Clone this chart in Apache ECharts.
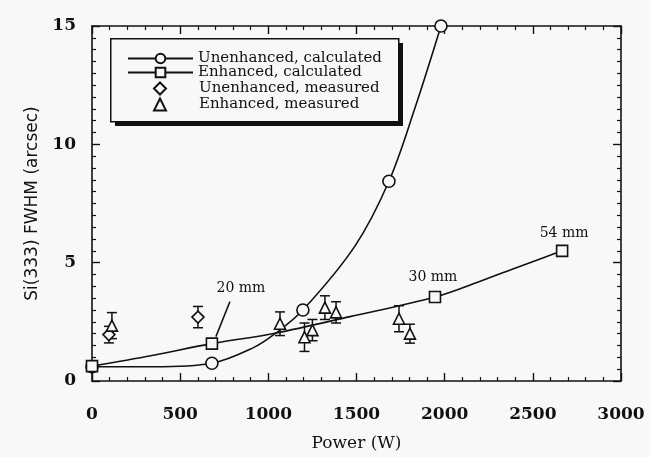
<!DOCTYPE html>
<html>
<head>
<meta charset="utf-8">
<script src="https://cdn.jsdelivr.net/npm/echarts@6/dist/echarts.min.js"></script>
<style>
html,body{margin:0;padding:0;background:#f8f8f8;}
#chart{width:650px;height:457px;}
</style>
</head>
<body>
<div id="chart"></div>
<script>
// ---- data ----
// calculated curves: traced points (W, arcsec)
const unenhCurveX = [0, 350, 680, 913, 1038, 1196, 1491, 1684, 1830, 1979];
const unenhCurveY = [0.6, 0.6, 0.75, 1.4, 2.0, 3.0, 5.7, 8.44, 11.5, 15.0];
// positions of the calculated markers (circles)
const unenhMarkX = [0, 680, 1196, 1684, 1979];

const enhCurveX = [0, 340, 680, 1038, 1463, 1945, 2217, 2410, 2666];
const enhCurveY = [0.63, 1.08, 1.58, 2.02, 2.72, 3.55, 4.26, 4.8, 5.5];
// calculated markers (squares) and their labels
const enhMarkX = [0, 680, 1945, 2666];
const enhMarkLabels = ['', '20 mm', '30 mm', '54 mm'];

// measured points with error bars
const unenhMeasX = [96, 601];
const unenhMeasY = [1.96, 2.7];
const unenhMeasErr = [0.35, 0.45];

const enhMeasX = [113, 1066, 1205, 1250, 1321, 1384, 1741, 1803];
const enhMeasY = [2.34, 2.42, 1.85, 2.15, 3.1, 2.9, 2.63, 2.0];
const enhMeasErr = [0.55, 0.5, 0.6, 0.45, 0.5, 0.45, 0.55, 0.4];

const xTicks = [0, 500, 1000, 1500, 2000, 2500, 3000];
const yTicks = [0, 5, 10, 15];

const seriesNames = ['Unenhanced, calculated', 'Enhanced, calculated', 'Unenhanced, measured', 'Enhanced, measured'];
// ---------------------------------------

const BLACK = '#111';
const BG = '#f8f8f8';
const SERIF = '"DejaVu Serif", "Liberation Serif", serif';

function curveData(xs, ys, marks, symbol) {
  return xs.map((x, i) => {
    const item = { value: [x, ys[i]] };
    item.symbol = marks.indexOf(x) < 0 ? 'none' : symbol;
    return item;
  });
}

const chart = echarts.init(document.getElementById('chart'), null, { renderer: 'canvas' });

const axisCommon = {
  axisLine: { show: true, onZero: false, lineStyle: { color: BLACK, width: 1.6 } },
  axisTick: { show: true, inside: true, length: 8, lineStyle: { color: BLACK, width: 1.4 } },
  minorTick: { show: true, length: 4, lineStyle: { color: BLACK, width: 1.2 } },
  splitLine: { show: false }
};

const errBars = (xs, ys, es) => xs.map((x, i) => [x, ys[i], es[i]]);

function renderErr(params, api) {
  const x = api.value(0), y = api.value(1), e = api.value(2);
  const t = api.coord([x, y + e]);
  const b = api.coord([x, y - e]);
  const w = 5;
  const st = { stroke: BLACK, lineWidth: 1.5 };
  return {
    type: 'group',
    children: [
      { type: 'line', shape: { x1: t[0], y1: t[1], x2: b[0], y2: b[1] }, style: st },
      { type: 'line', shape: { x1: t[0] - w, y1: t[1], x2: t[0] + w, y2: t[1] }, style: st },
      { type: 'line', shape: { x1: b[0] - w, y1: b[1], x2: b[0] + w, y2: b[1] }, style: st }
    ]
  };
}

// label offsets (style only)
const labelOffsets = { '20 mm': [29, -55], '30 mm': [-2, -20], '54 mm': [2, -17] };

function renderLabel(params, api) {
  const x = api.value(0), y = api.value(1);
  const txt = enhMarkLabels[params.dataIndex];
  if (!txt) return null;
  const p = api.coord([x, y]);
  const off = labelOffsets[txt];
  const children = [{
    type: 'text',
    style: {
      text: txt, x: p[0] + off[0], y: p[1] + off[1],
      align: 'center', verticalAlign: 'middle',
      font: '14px ' + SERIF, fill: BLACK
    }
  }];
  if (txt === '20 mm') {
    children.push({
      type: 'line',
      shape: { x1: p[0] + 18, y1: p[1] - 42, x2: p[0] + 4, y2: p[1] - 7 },
      style: { stroke: BLACK, lineWidth: 1.5 }
    });
  }
  return { type: 'group', children };
}

const enhLabelData = enhMarkX.map(x => [x, enhCurveY[enhCurveX.indexOf(x)]]);

const legendText = { fontFamily: SERIF, fontSize: 15, color: BLACK, lineHeight: 12 };

const option = {
  backgroundColor: BG,
  animation: false,
  textStyle: { fontFamily: SERIF, color: BLACK },
  grid: { left: 92, right: 29, top: 26, bottom: 72, containLabel: false },
  graphic: [
    { type: 'rect', left: 115, top: 43, shape: { width: 288, height: 83 }, style: { fill: BLACK }, z: 10 },
    { type: 'rect', left: 110, top: 38, shape: { width: 288, height: 83 },
      style: { fill: BG, stroke: BLACK, lineWidth: 1.5 }, z: 11 }
  ],
  legend: [
    {
      data: seriesNames.slice(0, 2),
      orient: 'vertical',
      left: 127, top: 51, padding: 0,
      itemWidth: 65, itemHeight: 12, itemGap: -1,
      textStyle: legendText,
      selectedMode: false, z: 20
    },
    {
      data: seriesNames.slice(2),
      orient: 'vertical',
      left: 153, top: 81, padding: 0,
      itemWidth: 12, itemHeight: 12, itemGap: 1,
      textStyle: Object.assign({}, legendText, { padding: [0, 0, 0, 28] }),
      selectedMode: false, z: 20
    }
  ],
  xAxis: [
    Object.assign({}, axisCommon, {
      type: 'value', min: 0, max: 3000, interval: 500, position: 'bottom',
      name: 'Power (W)', nameLocation: 'middle', nameGap: 54,
      nameTextStyle: { fontFamily: SERIF, fontSize: 17, color: BLACK },
      minorTick: Object.assign({}, axisCommon.minorTick, { splitNumber: 5 }),
      axisLabel: { margin: 25, fontFamily: SERIF, fontSize: 17, fontWeight: 'bold', color: BLACK,
        formatter: v => xTicks.includes(v) ? String(v) : '' }
    }),
    Object.assign({}, axisCommon, {
      type: 'value', min: 0, max: 3000, interval: 500, position: 'top',
      minorTick: Object.assign({}, axisCommon.minorTick, { splitNumber: 5 }),
      axisLabel: { show: false }
    })
  ],
  yAxis: [
    Object.assign({}, axisCommon, {
      type: 'value', min: 0, max: 15, interval: 5, position: 'left',
      name: 'Si(333) FWHM (arcsec)', nameLocation: 'middle', nameGap: 43, nameRotate: 90,
      nameTextStyle: { fontFamily: '"DejaVu Sans", sans-serif', fontSize: 17, color: BLACK },
      minorTick: Object.assign({}, axisCommon.minorTick, { splitNumber: 10 }),
      axisLabel: { margin: 16, fontFamily: SERIF, fontSize: 17, fontWeight: 'bold', color: BLACK, padding: [0, 0, 8, 0],
        formatter: v => yTicks.includes(v) ? String(v) : '' }
    }),
    Object.assign({}, axisCommon, {
      type: 'value', min: 0, max: 15, interval: 5, position: 'right',
      minorTick: Object.assign({}, axisCommon.minorTick, { splitNumber: 10 }),
      axisLabel: { show: false }
    })
  ],
  series: [
    {
      name: seriesNames[0], type: 'line', smooth: 0.35,
      data: curveData(unenhCurveX, unenhCurveY, unenhMarkX, 'circle'),
      symbol: 'circle', symbolSize: 12, showAllSymbol: true,
      lineStyle: { color: BLACK, width: 1.6 },
      itemStyle: { color: BG, borderColor: BLACK, borderWidth: 1.6 },
      z: 3
    },
    {
      name: seriesNames[1], type: 'line', smooth: 0.35,
      data: curveData(enhCurveX, enhCurveY, enhMarkX, 'rect'),
      symbol: 'rect', symbolSize: 11, showAllSymbol: true,
      lineStyle: { color: BLACK, width: 1.6 },
      itemStyle: { color: BG, borderColor: BLACK, borderWidth: 1.6 },
      z: 3
    },
    {
      name: 'errU', type: 'custom', renderItem: renderErr,
      data: errBars(unenhMeasX, unenhMeasY, unenhMeasErr), z: 2, silent: true
    },
    {
      name: 'errE', type: 'custom', renderItem: renderErr,
      data: errBars(enhMeasX, enhMeasY, enhMeasErr), z: 2, silent: true
    },
    {
      name: seriesNames[2], type: 'scatter',
      data: unenhMeasX.map((x, i) => [x, unenhMeasY[i]]),
      symbol: 'diamond', symbolSize: 12,
      itemStyle: { color: BG, borderColor: BLACK, borderWidth: 1.6, opacity: 1 },
      z: 4
    },
    {
      name: seriesNames[3], type: 'scatter',
      data: enhMeasX.map((x, i) => [x, enhMeasY[i]]),
      symbol: 'triangle', symbolSize: 11,
      itemStyle: { color: BG, borderColor: BLACK, borderWidth: 1.6, opacity: 1 },
      z: 4
    },
    {
      name: 'labels', type: 'custom', renderItem: renderLabel,
      data: enhLabelData, z: 5, silent: true
    }
  ]
};

chart.setOption(option);
</script>
</body>
</html>
